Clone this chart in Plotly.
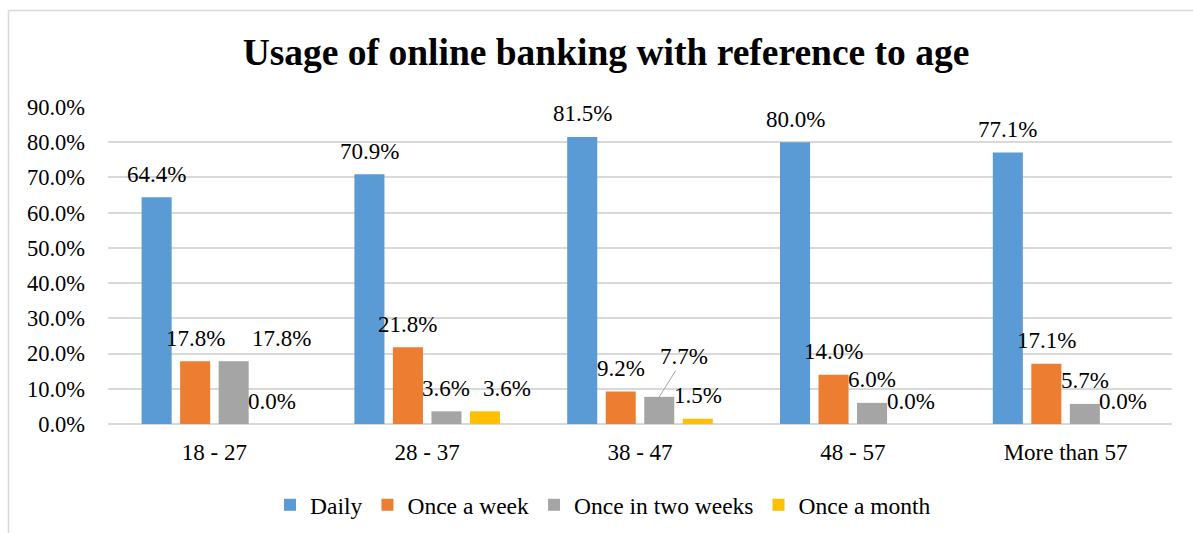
import plotly.graph_objects as go

# ---------------- data ----------------
categories = ["18 - 27", "28 - 37", "38 - 47", "48 - 57", "More than 57"]
series_names = ["Daily", "Once a week", "Once in two weeks", "Once a month"]
daily = [64.4, 70.9, 81.5, 80.0, 77.1]
once_a_week = [17.8, 21.8, 9.2, 14.0, 17.1]
once_in_two_weeks = [17.8, 3.6, 7.7, 6.0, 5.7]
once_a_month = [0.0, 3.6, 1.5, 0.0, 0.0]
y_ticks = [0, 10, 20, 30, 40, 50, 60, 70, 80, 90]

series_values = [daily, once_a_week, once_in_two_weeks, once_a_month]
colors = ["#5B9BD5", "#ED7D31", "#A5A5A5", "#FFC000"]

# ---------------- style ----------------
FONT = "Liberation Serif"
W, H = 1193, 533
ML, MR, MT, MB = 108, 21, 107, 109
BARGAP = 0.276
BARGROUPGAP = 0.22
GRID = "#D9D9D9"
LABEL_SIZE = 23

# manual label nudges (pixels), as in the reference chart: (series, category) -> (dx, dy)
label_nudge = {(2, 0): (48, 0), (3, 1): (22, 0)}
# label with a leader line: (series, category) -> (ax, ay)
leader_labels = {(2, 2): (25, -40)}

fig = go.Figure()
for name, vals, col in zip(series_names, series_values, colors):
    fig.add_trace(go.Bar(
        name=name, x=categories, y=vals, marker_color=col,
        marker_line_width=0, hoverinfo="skip",
    ))

slot = (1 - BARGAP) / len(series_names)
annotations = []
for si, vals in enumerate(series_values):
    off = (si - (len(series_names) - 1) / 2) * slot
    for ci, v in enumerate(vals):
        txt = f"{v:.1f}%"
        if (si, ci) in leader_labels:
            ax, ay = leader_labels[(si, ci)]
            annotations.append(dict(
                x=ci + off, y=v, xref="x", yref="y", text=txt,
                showarrow=True, arrowhead=0, arrowwidth=1, arrowcolor="#A5A5A5",
                ax=ax, ay=ay, standoff=0, startstandoff=0,
                font=dict(family=FONT, size=LABEL_SIZE, color="#000000"),
            ))
        else:
            dx, dy = label_nudge.get((si, ci), (0, 0))
            annotations.append(dict(
                x=ci + off, y=v, xref="x", yref="y", text=txt, showarrow=False,
                xanchor="center", yanchor="middle", xshift=dx, yshift=23 + dy,
                font=dict(family=FONT, size=LABEL_SIZE, color="#000000"),
            ))

# chart-area border (left and top edges visible)
pw = W - ML - MR
ph = H - MT - MB
def px_to_paper_x(px):
    return (px - ML) / pw
def px_to_paper_y(py):
    return (H - MB - py) / ph

shapes = [
    dict(type="line", xref="paper", yref="paper",
         x0=px_to_paper_x(8.5), x1=px_to_paper_x(8.5),
         y0=px_to_paper_y(10.5), y1=px_to_paper_y(H + 5),
         line=dict(color=GRID, width=1.5)),
    dict(type="line", xref="paper", yref="paper",
         x0=px_to_paper_x(8.5), x1=px_to_paper_x(W + 5),
         y0=px_to_paper_y(10.5), y1=px_to_paper_y(10.5),
         line=dict(color=GRID, width=1.5)),
]

fig.update_layout(
    width=W, height=H,
    margin=dict(l=ML, r=MR, t=MT, b=MB, autoexpand=False),
    paper_bgcolor="white", plot_bgcolor="white",
    barmode="group", bargap=BARGAP, bargroupgap=BARGROUPGAP,
    font=dict(family=FONT, size=23, color="#000000"),
    title=dict(
        text="<b>Usage of online banking with reference to age</b>",
        font=dict(family=FONT, size=37.5, color="#000000"),
        x=px_to_paper_x(606), xref="paper", xanchor="center",
        y=1 - 52 / H, yref="container", yanchor="middle",
    ),
    xaxis=dict(
        type="category", showgrid=False, showline=False, zeroline=False,
        ticks="", tickfont=dict(family=FONT, size=23, color="#000000"),
        ticklabelstandoff=12, automargin=False,
    ),
    yaxis=dict(
        range=[0, 90], tickvals=y_ticks,
        ticktext=[f"{t:.1f}%" for t in y_ticks],
        showgrid=True, gridcolor=GRID, gridwidth=1.5,
        zeroline=True, zerolinecolor=GRID, zerolinewidth=1.5,
        showline=False, ticks="",
        tickfont=dict(family=FONT, size=22.5, color="#000000"),
        ticklabelstandoff=22, automargin=False,
    ),
    legend=dict(
        orientation="h", x=px_to_paper_x(603), xanchor="center",
        y=px_to_paper_y(505), yanchor="middle",
        font=dict(family=FONT, size=23.5, color="#000000"),
        itemclick=False,
    ),
    annotations=annotations,
    shapes=shapes,
    showlegend=True,
)

fig.write_html(
    "out.html",
    config={"displayModeBar": False},
    post_script="document.body.style.margin='0';document.body.style.padding='0';"
                "document.documentElement.style.overflow='hidden';",
)
